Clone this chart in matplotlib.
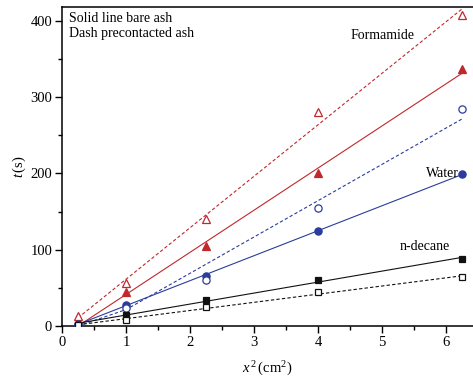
import numpy as np
import matplotlib
matplotlib.use("Agg")
import matplotlib.pyplot as plt
from matplotlib.ticker import MultipleLocator

plt.rcParams['font.family'] = ['Liberation Serif', 'DejaVu Serif']
plt.rcParams['mathtext.fontset'] = 'custom'
plt.rcParams['mathtext.rm'] = 'Liberation Serif'
plt.rcParams['mathtext.it'] = 'Liberation Serif:italic'

x2 = [0.25, 1.0, 2.25, 4.0, 6.25]
formamide_bare = [3, 45, 105, 200, 337]
formamide_pre = [13, 56, 140, 280, 408]
water_bare = [3, 27, 66, 125, 199]
water_pre = [2, 23, 60, 155, 284]
decane_bare = [2, 14, 34, 60, 88]
decane_pre = [1, 8, 25, 44, 64]

red = '#c0282c'
blue = '#2b3c9c'
black = '#111111'

fig = plt.figure(figsize=(4.73, 3.8), dpi=100)
ax = fig.add_axes([0.131, 0.142, 0.869, 0.8395])

series = [
    (formamide_bare, red, '^', True, '-'),
    (formamide_pre, red, '^', False, '--'),
    (water_bare, blue, 'o', True, '-'),
    (water_pre, blue, 'o', False, '--'),
    (decane_bare, black, 's', True, '-'),
    (decane_pre, black, 's', False, '--'),
]
sizes = {'^': 6.0, 'o': 5.2, 's': 5.0}
xs = np.array(x2)
for ys, c, m, filled, ls in series:
    ys = np.array(ys, dtype=float)
    p = np.polyfit(xs, ys, 1)
    fit = np.clip(np.polyval(p, xs), 0, None)
    if ls == '--':
        ax.plot(xs, fit, color=c, lw=0.8, ls=(0, (3, 2)))
    else:
        ax.plot(xs, fit, color=c, lw=0.8, ls='-')
    ax.plot(xs, ys, ls='none', marker=m, ms=sizes[m],
            mfc=c if filled else 'white', mec=c, mew=0.9, zorder=3)

ax.set_xlim(0, 6.42)
ax.set_ylim(0, 418)
ax.xaxis.set_major_locator(MultipleLocator(1))
ax.xaxis.set_minor_locator(MultipleLocator(0.5))
ax.yaxis.set_major_locator(MultipleLocator(100))
ax.yaxis.set_minor_locator(MultipleLocator(50))
ax.tick_params(which='major', direction='out', length=5, width=1, labelsize=10.5, pad=2)
ax.tick_params(which='minor', direction='out', length=3, width=1)
ax.spines['right'].set_visible(False)
for s in ['left', 'bottom', 'top']:
    ax.spines[s].set_linewidth(1.1)

ax.set_xlabel(r'$x^{\,2}\,$(cm$^2$)', fontsize=10.5, labelpad=8)
ax.set_ylabel(r'$t\,$(s)', fontsize=10.5, labelpad=2)

ax.text(0.018, 0.985, 'Solid line bare ash\nDash precontacted ash', transform=ax.transAxes,
        ha='left', va='top', fontsize=10, linespacing=1.25)
ax.text(5.0, 381, 'Formamide', ha='center', va='center', fontsize=10)
ax.text(6.2, 200, 'Water', ha='right', va='center', fontsize=10)
ax.text(5.66, 104, 'n-decane', ha='center', va='center', fontsize=10)

fig.savefig('out.png', dpi=100)
